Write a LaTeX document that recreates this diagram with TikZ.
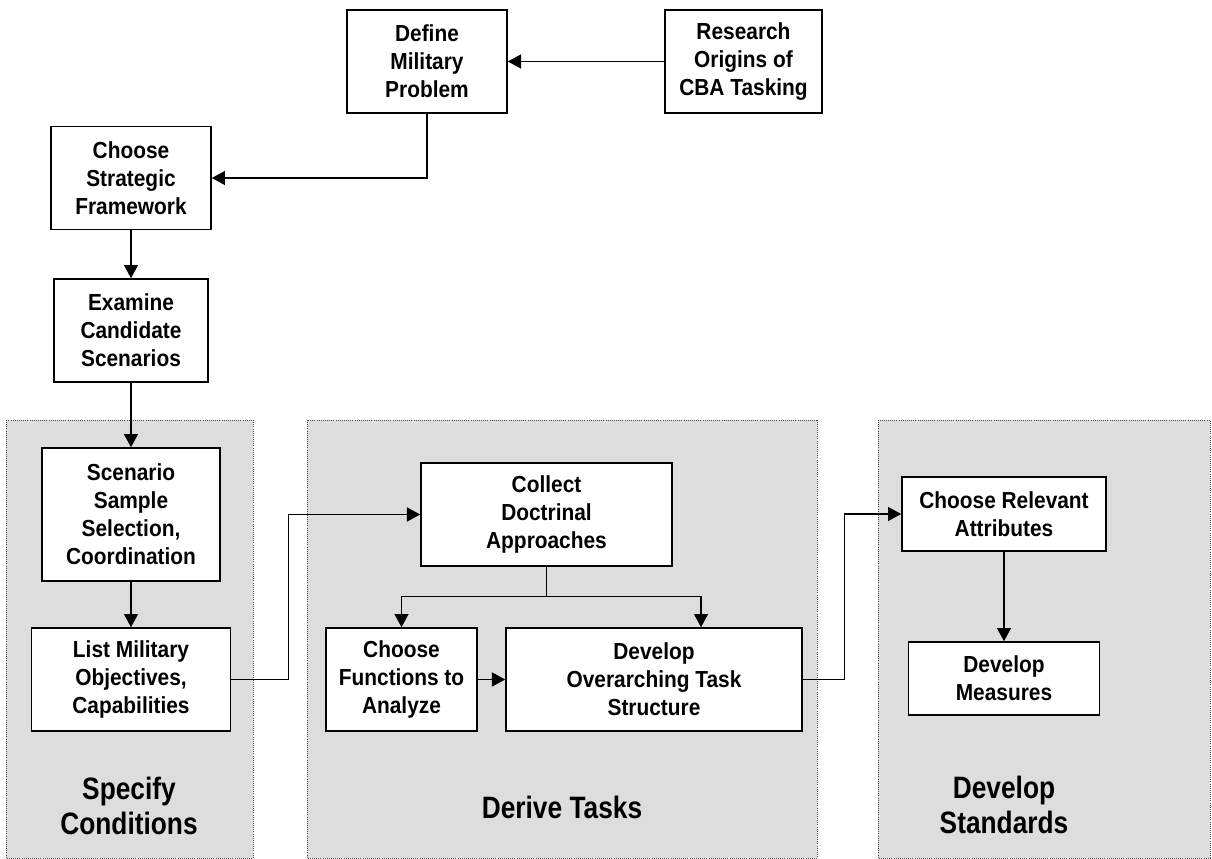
\documentclass[tikz,border=0pt]{standalone}
\usepackage{fontspec}
\newfontfamily\diagfont{Liberation Sans}[FakeStretch=0.9]
\newfontfamily\phasefont{Liberation Sans}[FakeStretch=0.85]
\usetikzlibrary{arrows.meta,positioning}
\definecolor{panelgray}{RGB}{221,221,221}

\begin{document}
\begin{tikzpicture}[x=0.025cm,y=-0.025cm,>={Triangle[length=0.33cm,width=0.35cm]},
  task/.style={draw,line width=1.1pt,fill=white,align=center,inner sep=0pt,minimum height=2.575cm,font=\diagfont\bfseries\fontsize{16.5}{20}\selectfont},
  panel/.style={fill=panelgray,draw=black!70,densely dotted,line width=0.5pt},
  phase/.style={align=center,font=\phasefont\bfseries\fontsize{22}{25}\selectfont},
  link/.style={->,line width=0.9pt}]
\useasboundingbox (0,0) rectangle (1212,859);
\path[panel] (6,420) rectangle (253,858)
             (307,420) rectangle (817,858)
             (878,420) rectangle (1210,858);

\node[task,minimum width=4cm] (define) at (427,61.5) {Define\\Military\\Problem};
\node[task,minimum width=3.925cm] (research) at (743.5,61.5) {Research\\Origins of\\CBA Tasking};
\node[task,minimum width=4cm] (strategic) at (131,178) {Choose\\Strategic\\Framework};
\node[task,minimum width=3.85cm] (examine) at (131,330.5) {Examine\\Candidate\\Scenarios};
\node[task,minimum width=4.45cm,minimum height=3.325cm] (sample) at (131,514.5) {Scenario\\Sample\\Selection,\\Coordination};
\node[task,minimum width=4.975cm] (objectives) at (131,679.5) {List Military\\Objectives,\\Capabilities};
\node[task,minimum width=6.275cm] (doctrine) at (546.5,514.5) {Collect\\Doctrinal\\Approaches};
\node[task,minimum width=3.775cm] (functions) at (401.5,679.5) {Choose\\Functions to\\Analyze};
\node[task,minimum width=7.4cm] (structure) at (654,679.5) {Develop\\Overarching Task\\Structure};
\node[task,minimum width=5.1cm,minimum height=1.85cm] (attributes) at (1004,514) {Choose Relevant\\Attributes};
\node[task,minimum width=4.775cm,minimum height=1.825cm] (measures) at (1004,678.5) {Develop\\Measures};

\node[phase] (conditions) at (129,806) {Specify\\Conditions};
\node[phase] (tasks) at (562,807) {Derive Tasks};
\node[phase] (standards) at (1004,805) {Develop\\Standards};

\draw[link] (research) -- (define);
\draw[link] (define) |- (strategic);
\draw[link] (strategic) -- (examine);
\draw[link] (examine) -- (sample);
\draw[link] (sample) -- (objectives);
\draw[link] (objectives.east) -- ++(57,0) |- (doctrine);
\draw[link] (doctrine.south) -- ++(0,30) -| (functions);
\draw[link] (doctrine.south) -- ++(0,30) -| ([xshift=1.175cm]structure.north);
\draw[link] (functions) -- (structure);
\draw[link] (structure.east) -- ++(42,0) |- (attributes);
\draw[link] (attributes) -- (measures);
\end{tikzpicture}
\end{document}
